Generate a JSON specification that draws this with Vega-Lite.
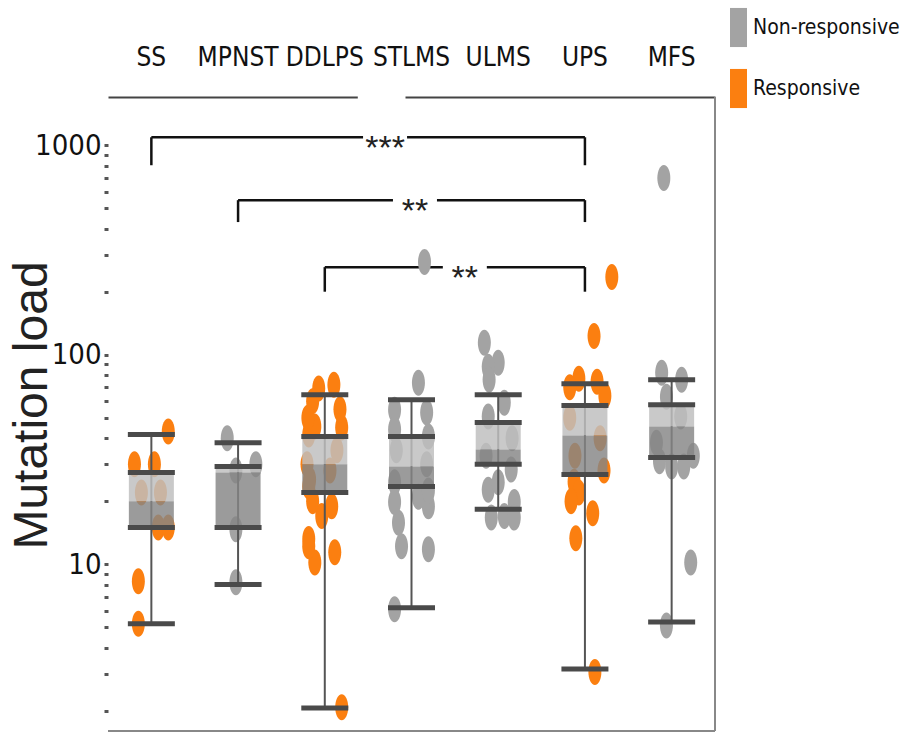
{
  "$schema": "https://vega.github.io/schema/vega-lite/v6.json",
  "width": 607,
  "height": 634,
  "autosize": "none",
  "padding": {"left": 108, "top": 97, "right": 198, "bottom": 4},
  "background": "white",
  "config": {"view": {"stroke": null}},
  "datasets": {
    "points": [
      {"group": "SS", "resp": "Responsive", "load": 43, "jit": 0.39},
      {"group": "SS", "resp": "Responsive", "load": 30, "jit": -0.39},
      {"group": "SS", "resp": "Responsive", "load": 30, "jit": 0.07},
      {"group": "SS", "resp": "Responsive", "load": 22, "jit": 0.21},
      {"group": "SS", "resp": "Responsive", "load": 22, "jit": -0.23},
      {"group": "SS", "resp": "Responsive", "load": 15, "jit": 0.16},
      {"group": "SS", "resp": "Responsive", "load": 15, "jit": 0.39},
      {"group": "SS", "resp": "Responsive", "load": 8.3, "jit": -0.3},
      {"group": "SS", "resp": "Responsive", "load": 5.2, "jit": -0.3},
      {"group": "MPNST", "resp": "Non-responsive", "load": 40, "jit": -0.25},
      {"group": "MPNST", "resp": "Non-responsive", "load": 28, "jit": -0.05},
      {"group": "MPNST", "resp": "Non-responsive", "load": 30, "jit": 0.41},
      {"group": "MPNST", "resp": "Non-responsive", "load": 14.7, "jit": -0.05},
      {"group": "MPNST", "resp": "Non-responsive", "load": 8.2, "jit": -0.05},
      {"group": "DDLPS", "resp": "Responsive", "load": 69, "jit": -0.14},
      {"group": "DDLPS", "resp": "Responsive", "load": 72, "jit": 0.21},
      {"group": "DDLPS", "resp": "Responsive", "load": 45, "jit": 0.39},
      {"group": "DDLPS", "resp": "Responsive", "load": 41.6, "jit": -0.37},
      {"group": "DDLPS", "resp": "Responsive", "load": 45.4, "jit": -0.23},
      {"group": "DDLPS", "resp": "Responsive", "load": 25.4, "jit": -0.35},
      {"group": "DDLPS", "resp": "Responsive", "load": 23.5, "jit": -0.37},
      {"group": "DDLPS", "resp": "Responsive", "load": 18.9, "jit": 0.16},
      {"group": "DDLPS", "resp": "Responsive", "load": 17, "jit": -0.07},
      {"group": "DDLPS", "resp": "Responsive", "load": 13.2, "jit": -0.37},
      {"group": "DDLPS", "resp": "Responsive", "load": 10.2, "jit": -0.23},
      {"group": "DDLPS", "resp": "Responsive", "load": 11.4, "jit": 0.23},
      {"group": "DDLPS", "resp": "Responsive", "load": 12.2, "jit": -0.37},
      {"group": "DDLPS", "resp": "Responsive", "load": 2.08, "jit": 0.39},
      {"group": "DDLPS", "resp": "Responsive", "load": 35, "jit": 0.28},
      {"group": "DDLPS", "resp": "Responsive", "load": 30, "jit": -0.41},
      {"group": "DDLPS", "resp": "Responsive", "load": 28, "jit": 0.12},
      {"group": "DDLPS", "resp": "Responsive", "load": 55, "jit": 0.35},
      {"group": "DDLPS", "resp": "Responsive", "load": 60, "jit": -0.28},
      {"group": "DDLPS", "resp": "Responsive", "load": 20, "jit": -0.28},
      {"group": "DDLPS", "resp": "Responsive", "load": 50, "jit": -0.39},
      {"group": "STLMS", "resp": "Non-responsive", "load": 277, "jit": 0.3},
      {"group": "STLMS", "resp": "Non-responsive", "load": 73.6, "jit": 0.16},
      {"group": "STLMS", "resp": "Non-responsive", "load": 54.7, "jit": -0.39},
      {"group": "STLMS", "resp": "Non-responsive", "load": 53, "jit": 0.35},
      {"group": "STLMS", "resp": "Non-responsive", "load": 44, "jit": -0.39},
      {"group": "STLMS", "resp": "Non-responsive", "load": 40.7, "jit": 0.39},
      {"group": "STLMS", "resp": "Non-responsive", "load": 24.6, "jit": -0.39},
      {"group": "STLMS", "resp": "Non-responsive", "load": 15.8, "jit": -0.3},
      {"group": "STLMS", "resp": "Non-responsive", "load": 12.2, "jit": -0.23},
      {"group": "STLMS", "resp": "Non-responsive", "load": 18.9, "jit": 0.39},
      {"group": "STLMS", "resp": "Non-responsive", "load": 11.8, "jit": 0.39},
      {"group": "STLMS", "resp": "Non-responsive", "load": 6.1, "jit": -0.39},
      {"group": "STLMS", "resp": "Non-responsive", "load": 21, "jit": 0.16},
      {"group": "STLMS", "resp": "Non-responsive", "load": 19.8, "jit": -0.39},
      {"group": "STLMS", "resp": "Non-responsive", "load": 35, "jit": -0.35},
      {"group": "STLMS", "resp": "Non-responsive", "load": 30, "jit": 0.35},
      {"group": "STLMS", "resp": "Non-responsive", "load": 22.5, "jit": 0.39},
      {"group": "ULMS", "resp": "Non-responsive", "load": 114, "jit": -0.32},
      {"group": "ULMS", "resp": "Non-responsive", "load": 91.6, "jit": 0.0},
      {"group": "ULMS", "resp": "Non-responsive", "load": 87.6, "jit": -0.23},
      {"group": "ULMS", "resp": "Non-responsive", "load": 76, "jit": -0.21},
      {"group": "ULMS", "resp": "Non-responsive", "load": 59, "jit": 0.14},
      {"group": "ULMS", "resp": "Non-responsive", "load": 50.7, "jit": -0.23},
      {"group": "ULMS", "resp": "Non-responsive", "load": 28.3, "jit": 0.3},
      {"group": "ULMS", "resp": "Non-responsive", "load": 22.7, "jit": -0.23},
      {"group": "ULMS", "resp": "Non-responsive", "load": 19.8, "jit": 0.37},
      {"group": "ULMS", "resp": "Non-responsive", "load": 17, "jit": 0.14},
      {"group": "ULMS", "resp": "Non-responsive", "load": 16.7, "jit": -0.16},
      {"group": "ULMS", "resp": "Non-responsive", "load": 16.7, "jit": 0.37},
      {"group": "ULMS", "resp": "Non-responsive", "load": 24.6, "jit": 0.0},
      {"group": "ULMS", "resp": "Non-responsive", "load": 40, "jit": 0.32},
      {"group": "ULMS", "resp": "Non-responsive", "load": 33, "jit": -0.28},
      {"group": "UPS", "resp": "Responsive", "load": 235, "jit": 0.62},
      {"group": "UPS", "resp": "Responsive", "load": 123, "jit": 0.21},
      {"group": "UPS", "resp": "Responsive", "load": 76.9, "jit": -0.14},
      {"group": "UPS", "resp": "Responsive", "load": 74.3, "jit": 0.28},
      {"group": "UPS", "resp": "Responsive", "load": 63.7, "jit": 0.46},
      {"group": "UPS", "resp": "Responsive", "load": 24.8, "jit": -0.25},
      {"group": "UPS", "resp": "Responsive", "load": 22, "jit": -0.14},
      {"group": "UPS", "resp": "Responsive", "load": 17.5, "jit": 0.18},
      {"group": "UPS", "resp": "Responsive", "load": 13.3, "jit": -0.21},
      {"group": "UPS", "resp": "Responsive", "load": 3.06, "jit": 0.23},
      {"group": "UPS", "resp": "Responsive", "load": 28, "jit": 0.44},
      {"group": "UPS", "resp": "Responsive", "load": 50, "jit": -0.35},
      {"group": "UPS", "resp": "Responsive", "load": 40, "jit": 0.35},
      {"group": "UPS", "resp": "Responsive", "load": 33, "jit": -0.23},
      {"group": "UPS", "resp": "Responsive", "load": 70, "jit": -0.35},
      {"group": "UPS", "resp": "Responsive", "load": 20, "jit": -0.32},
      {"group": "MFS", "resp": "Non-responsive", "load": 697, "jit": -0.18},
      {"group": "MFS", "resp": "Non-responsive", "load": 82, "jit": -0.23},
      {"group": "MFS", "resp": "Non-responsive", "load": 76, "jit": 0.23},
      {"group": "MFS", "resp": "Non-responsive", "load": 63, "jit": -0.12},
      {"group": "MFS", "resp": "Non-responsive", "load": 10.2, "jit": 0.44},
      {"group": "MFS", "resp": "Non-responsive", "load": 5.1, "jit": -0.12},
      {"group": "MFS", "resp": "Non-responsive", "load": 38, "jit": -0.35},
      {"group": "MFS", "resp": "Non-responsive", "load": 29.3, "jit": 0.28},
      {"group": "MFS", "resp": "Non-responsive", "load": 29.3, "jit": 0.0},
      {"group": "MFS", "resp": "Non-responsive", "load": 50.7, "jit": 0.21},
      {"group": "MFS", "resp": "Non-responsive", "load": 33, "jit": 0.5},
      {"group": "MFS", "resp": "Non-responsive", "load": 31, "jit": -0.28}
    ],
    "boxes": [
      {"group": "SS", "lower": 5.2, "q1": 15, "median": 20, "q3": 27.4, "upper": 41.6},
      {"group": "MPNST", "lower": 8.0, "q1": 15, "median": 27.4, "q3": 29.3, "upper": 38},
      {"group": "DDLPS", "lower": 2.06, "q1": 22, "median": 30, "q3": 40.7, "upper": 64.4},
      {"group": "STLMS", "lower": 6.2, "q1": 23.5, "median": 29.3, "q3": 40.7, "upper": 61},
      {"group": "ULMS", "lower": 18.3, "q1": 30, "median": 35.3, "q3": 47.5, "upper": 64.4},
      {"group": "UPS", "lower": 3.16, "q1": 26.8, "median": 41.2, "q3": 57.2, "upper": 72.8},
      {"group": "MFS", "lower": 5.3, "q1": 32.3, "median": 45.4, "q3": 57.8, "upper": 76}
    ],
    "brackets": [
      {"from": "SS", "to": "UPS", "y": 1092, "ytick": 803, "label": "***", "at": "STLMS", "nudge": -0.61},
      {"from": "MPNST", "to": "UPS", "y": 547, "ytick": 430, "label": "**", "at": "STLMS", "nudge": 0.08},
      {"from": "DDLPS", "to": "UPS", "y": 262, "ytick": 200, "label": "**", "at": "ULMS", "nudge": -0.77}
    ]
  },
  "layer": [
    {
      "data": {"name": "brackets"},
      "mark": {"type": "rule", "color": "#111", "strokeWidth": 2.5},
      "encoding": {
        "x": {"field": "from", "type": "nominal", "title": null,
          "scale": {"domain": ["SS", "MPNST", "DDLPS", "STLMS", "ULMS", "UPS", "MFS"], "paddingInner": 0, "paddingOuter": 0},
          "axis": {"orient": "top", "title": null, "domain": true, "domainColor": "#444", "domainWidth": 2, "ticks": false,
            "labelFont": "Liberation Sans Narrow, DejaVu Sans Condensed, Arial Narrow, sans-serif", "labelFontSize": 26,
            "labelColor": "#111", "labelPadding": 32, "labelAngle": 0, "labelBaseline": "alphabetic", "grid": false}},
        "x2": {"field": "to"},
        "y": {"field": "y", "type": "quantitative", "title": "Mutation load",
          "scale": {"type": "log", "domain": [1.6, 1700], "nice": false, "clamp": false},
          "axis": {"orient": "left", "values": [2,3,4,5,6,7,8,9,10,20,30,40,50,60,70,80,90,100,200,300,400,500,600,700,800,900,1000],
            "labelExpr": "datum.value == 10 || datum.value == 100 || datum.value == 1000 ? datum.value + '' : ''",
            "grid": false, "domain": false, "tickSize": 4, "tickWidth": 3, "tickColor": "#555",
            "labelFont": "Liberation Sans Narrow, DejaVu Sans Condensed, Arial Narrow, sans-serif", "labelFontSize": 29,
            "labelColor": "#111", "labelPadding": 3, "labelOverlap": false, "labelFlush": false, "labelBaseline": "middle",
            "title": "Mutation load", "titleFont": "Liberation Sans, Arial, sans-serif", "titleFontSize": 48,
            "titleFontWeight": "normal", "titleColor": "#222", "titleX": -76, "titleY": 308, "titleAngle": 270,
            "titleAlign": "center", "titleBaseline": "middle"}}
      }
    },
    {
      "data": {"name": "brackets"},
      "transform": [{"fold": ["from", "to"], "as": ["end", "grp"]}],
      "mark": {"type": "rule", "color": "#111", "strokeWidth": 2.5},
      "encoding": {
        "x": {"field": "grp", "type": "nominal", "title": null},
        "y": {"field": "y", "type": "quantitative", "title": "Mutation load"},
        "y2": {"field": "ytick"}
      }
    },
    {
      "data": {"name": "brackets"},
      "mark": {"type": "point", "filled": true, "shape": "M-2.2,-0.9H2.2V0.9H-2.2Z", "size": 400, "color": "white", "opacity": 1, "strokeWidth": 0},
      "encoding": {
        "x": {"field": "at", "type": "nominal", "title": null},
        "xOffset": {"field": "nudge", "type": "quantitative", "scale": {"domain": [-1, 1]}},
        "y": {"field": "y", "type": "quantitative", "title": "Mutation load"}
      }
    },
    {
      "data": {"name": "brackets"},
      "mark": {"type": "text", "font": "Liberation Sans, Arial, sans-serif", "fontSize": 34, "color": "#222", "baseline": "alphabetic", "dy": 22},
      "encoding": {
        "x": {"field": "at", "type": "nominal", "title": null},
        "xOffset": {"field": "nudge", "type": "quantitative", "scale": {"domain": [-1, 1]}},
        "y": {"field": "y", "type": "quantitative", "title": "Mutation load"},
        "text": {"field": "label"}
      }
    },
    {
      "data": {"name": "points"},
      "mark": {"type": "point", "filled": true, "shape": "M0,-2A1,2,0,1,1,0,2A1,2,0,1,1,0,-2Z", "size": 169, "opacity": 1, "strokeWidth": 0},
      "encoding": {
        "x": {"field": "group", "type": "nominal", "title": null},
        "xOffset": {"field": "jit", "type": "quantitative", "scale": {"domain": [-1, 1]}},
        "y": {"field": "load", "type": "quantitative", "title": "Mutation load"},
        "color": {"field": "resp", "type": "nominal",
          "scale": {"domain": ["Non-responsive", "Responsive"], "range": ["#a3a3a3", "#fb7f10"]},
          "legend": {"title": null, "orient": "none", "legendX": 620, "legendY": -80,
            "symbolType": "M-1,-2.3H1V2.3H-1Z", "symbolSize": 289, "symbolOpacity": 1, "symbolStrokeWidth": 0,
            "labelFont": "Liberation Sans Narrow, DejaVu Sans Condensed, Arial Narrow, sans-serif", "labelFontSize": 21,
            "labelLimit": 300, "labelColor": "#111", "rowPadding": 20, "labelOffset": 4}}
      }
    },
    {
      "data": {"name": "boxes"},
      "mark": {"type": "rule", "color": "#555", "strokeWidth": 2},
      "encoding": {
        "x": {"field": "group", "type": "nominal", "title": null},
        "y": {"field": "lower", "type": "quantitative", "title": "Mutation load"},
        "y2": {"field": "upper"}
      }
    },
    {
      "data": {"name": "boxes"},
      "mark": {"type": "bar", "size": 45, "color": "#bfbfbf", "opacity": 0.84},
      "encoding": {
        "x": {"field": "group", "type": "nominal", "title": null},
        "y": {"field": "median", "type": "quantitative", "title": "Mutation load"},
        "y2": {"field": "q3"}
      }
    },
    {
      "data": {"name": "boxes"},
      "mark": {"type": "bar", "size": 45, "color": "#858585", "opacity": 0.82},
      "encoding": {
        "x": {"field": "group", "type": "nominal", "title": null},
        "y": {"field": "q1", "type": "quantitative", "title": "Mutation load"},
        "y2": {"field": "median"}
      }
    },
    {
      "data": {"name": "boxes"},
      "transform": [{"fold": ["lower", "q1", "q3", "upper"], "as": ["stat", "val"]}],
      "mark": {"type": "tick", "color": "#4a4a4a", "thickness": 5, "size": 47, "opacity": 1},
      "encoding": {
        "x": {"field": "group", "type": "nominal", "title": null},
        "y": {"field": "val", "type": "quantitative", "title": "Mutation load"}
      }
    },
    {
      "data": {"values": [{}]},
      "mark": {"type": "rule", "color": "#888", "strokeWidth": 2},
      "encoding": {"x": {"value": {"expr": "width"}}}
    },
    {
      "data": {"values": [{}]},
      "mark": {"type": "rule", "color": "#888", "strokeWidth": 2},
      "encoding": {"y": {"value": {"expr": "height"}}}
    },
    {
      "data": {"values": [{}]},
      "mark": {"type": "rule", "color": "white", "strokeWidth": 5, "xOffset": 33, "x2Offset": -6},
      "encoding": {
        "x": {"datum": "DDLPS", "type": "nominal"},
        "x2": {"datum": "STLMS"},
        "y": {"value": 0}
      }
    }
  ]
}
